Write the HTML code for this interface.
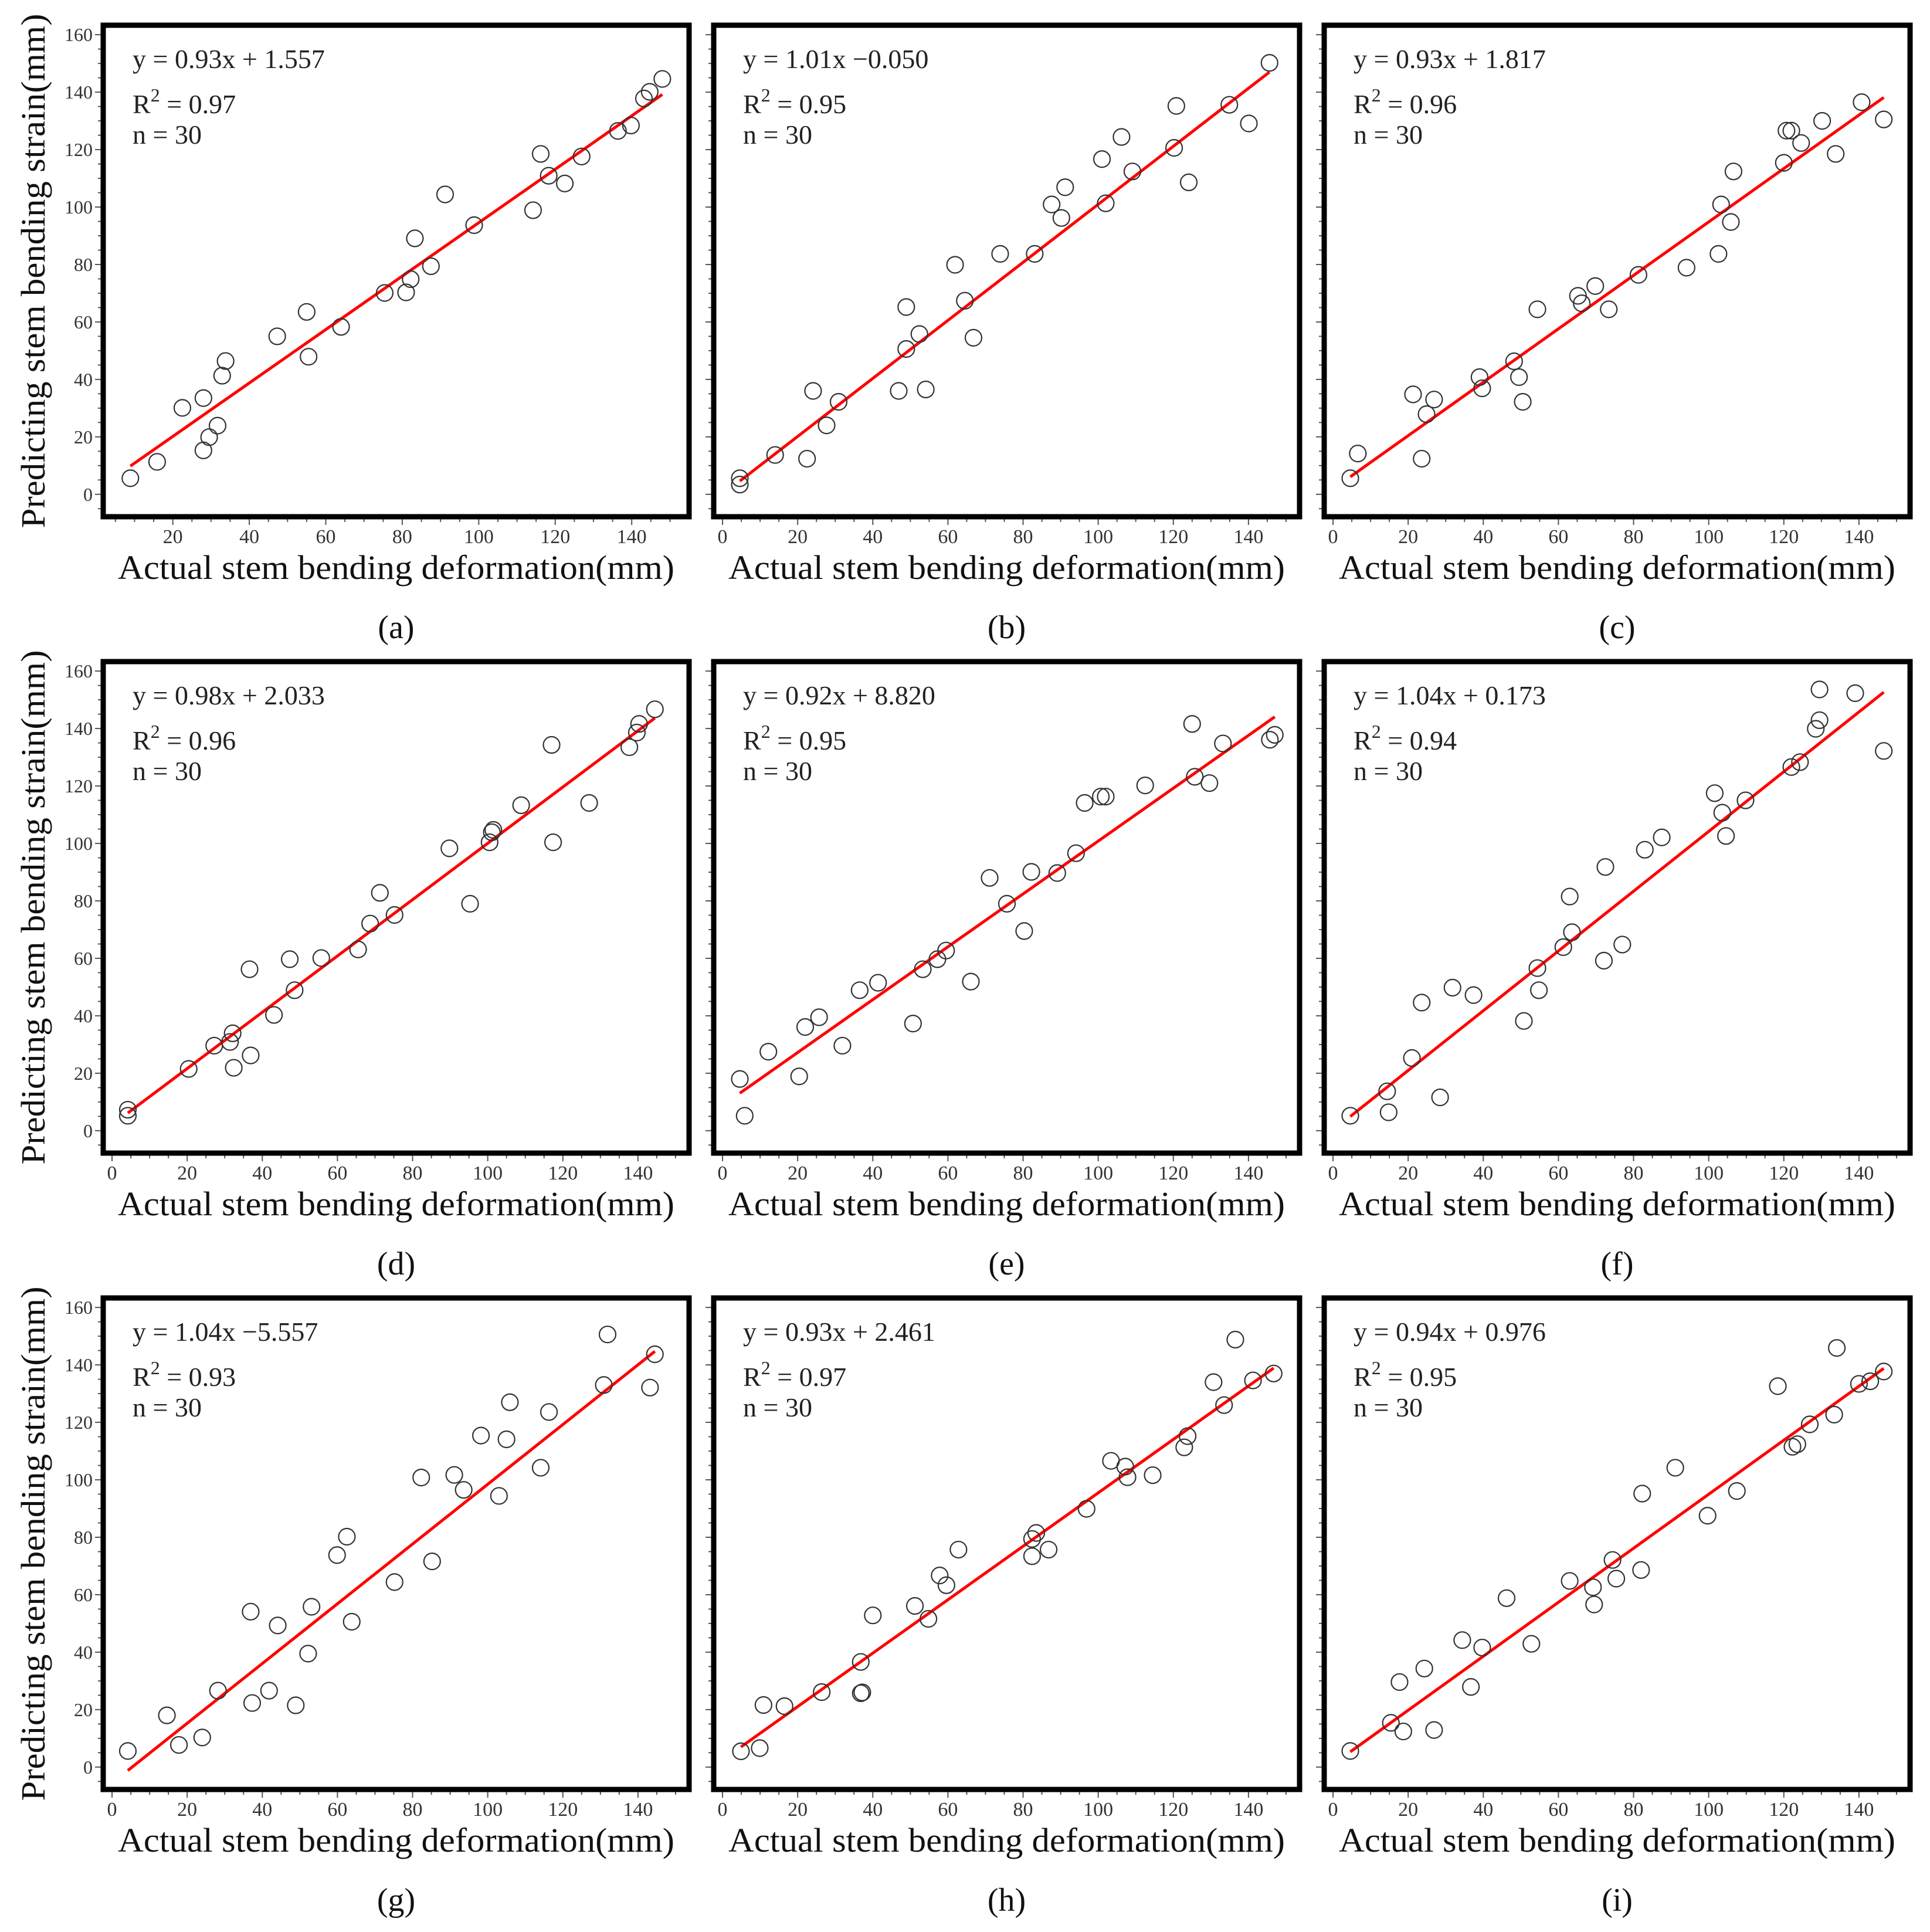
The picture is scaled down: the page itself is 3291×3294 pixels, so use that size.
<!DOCTYPE html>
<html><head><meta charset="utf-8"><style>
html,body{margin:0;padding:0;background:#fff;}
svg{display:block;font-family:"Liberation Serif","DejaVu Serif",serif;}
svg text{font-family:"Liberation Serif","DejaVu Serif",serif;}
</style></head>
<body>
<svg id="fig" width="3291" height="3294" viewBox="0 0 3291 3294" font-family="Liberation Serif, DejaVu Serif, serif" xmlns="http://www.w3.org/2000/svg"></svg>
<script>
const panelLabels = ["(a)","(b)","(c)","(d)","(e)","(f)","(g)","(h)","(i)"];
const slopes = [0.93,1.01,0.93,0.98,0.92,1.04,1.04,0.93,0.94];
const intercepts = [1.557,-0.050,1.817,2.033,8.820,0.173,-5.557,2.461,0.976];
const eqTexts = ["y = 0.93x + 1.557","y = 1.01x \u22120.050","y = 0.93x + 1.817","y = 0.98x + 2.033","y = 0.92x + 8.820","y = 1.04x + 0.173","y = 1.04x \u22125.557","y = 0.93x + 2.461","y = 0.94x + 0.976"];
const r2Texts = ["0.97","0.95","0.96","0.96","0.95","0.94","0.93","0.97","0.95"];
const xTicks = [0,20,40,60,80,100,120,140];
const yTicks = [0,20,40,60,80,100,120,140,160];
const actualA = [8.9,15.9,22.5,28.0,28.0,29.5,31.7,32.9,33.8,47.3,55.0,55.5,64.0,75.4,81.0,82.2,83.3,87.5,91.2,98.8,114.2,116.2,118.3,122.5,126.9,136.4,139.8,143.2,144.7,148.0];
const predA = [5.6,11.3,30.1,33.5,15.3,19.9,23.9,41.3,46.4,55.0,63.5,47.9,58.3,70.1,70.3,74.9,89.1,79.4,104.4,93.7,98.9,118.5,110.9,108.2,117.6,126.5,128.4,137.8,140.1,144.6];
const actualB = [4.6,4.6,14.0,22.5,24.1,27.7,30.9,46.9,48.9,48.9,52.4,54.1,61.9,64.5,66.8,73.9,83.1,87.6,90.2,91.2,101.0,102.0,106.2,109.1,120.2,120.8,124.1,134.9,140.1,145.6];
const predB = [3.4,5.6,13.7,12.4,36.0,24.0,32.2,36.0,65.2,50.6,55.8,36.5,79.9,67.4,54.5,83.7,83.7,100.9,96.2,106.9,116.7,101.3,124.4,112.4,120.6,135.2,108.6,135.6,129.1,150.2];
const actualC = [4.6,6.6,21.3,23.6,24.9,26.9,39.0,39.7,48.2,49.5,50.5,54.4,65.2,66.2,69.8,73.4,81.3,94.1,102.6,103.3,105.9,106.6,120.0,120.7,122.0,124.6,130.2,133.8,140.7,146.6];
const predC = [5.6,14.2,34.8,12.4,27.9,33.0,40.8,36.9,46.3,40.8,32.2,64.4,69.1,66.5,72.5,64.4,76.4,78.9,83.7,100.9,94.8,112.4,115.4,126.6,126.6,122.3,130.0,118.5,136.5,130.5];
const actualD = [4.2,4.2,20.4,27.2,31.4,32.1,32.4,36.6,36.9,43.1,47.3,48.6,55.7,65.5,68.7,71.3,75.2,89.8,95.3,100.5,101.1,101.5,108.9,117.0,117.4,127.0,137.7,139.7,140.3,144.5];
const predD = [7.3,5.2,21.5,29.6,30.9,33.9,21.9,56.2,26.2,40.3,59.7,48.9,60.1,63.1,72.1,82.8,75.1,98.3,79.0,100.4,103.9,104.7,113.3,134.3,100.4,114.1,133.5,138.6,141.6,146.7];
const actualE = [4.6,5.9,12.2,20.4,22.0,25.7,31.9,36.5,41.4,50.7,53.3,57.2,59.5,66.1,71.1,75.7,80.3,82.2,89.1,94.1,96.4,100.7,102.0,112.5,125.0,125.7,129.6,133.2,145.7,147.0];
const predE = [18.0,5.2,27.5,18.9,36.1,39.5,29.6,48.9,51.5,37.3,56.2,59.7,62.7,51.9,88.0,79.0,69.5,90.1,89.7,96.6,114.1,116.3,116.3,120.2,141.6,123.2,121.0,134.8,136.1,137.8];
const actualF = [4.6,14.4,14.8,21.0,23.6,28.5,31.8,37.4,50.8,54.4,54.8,61.3,63.0,63.6,72.1,72.5,77.0,83.0,87.5,101.6,103.6,104.6,109.8,122.0,124.3,128.5,129.5,129.5,139.0,146.6];
const predF = [5.2,13.7,6.4,25.3,44.6,11.6,49.8,47.2,38.2,56.6,48.9,63.9,81.5,69.1,59.2,91.8,64.8,97.8,102.1,117.5,110.7,102.6,115.0,126.6,128.3,139.9,142.9,153.6,152.3,132.2];
const actualG = [4.2,14.6,17.8,24.0,28.2,37.3,36.9,41.8,44.1,48.9,52.2,53.1,59.9,62.5,63.8,75.2,82.3,85.2,91.1,93.6,98.2,103.0,105.0,105.9,114.1,116.3,130.9,131.9,143.2,144.5];
const predG = [5.6,18.0,7.7,10.3,26.6,22.3,54.1,26.6,49.3,21.5,39.5,55.8,73.8,80.2,50.6,64.4,100.8,71.6,101.7,96.5,115.4,94.4,114.1,127.0,104.2,123.6,133.0,150.6,132.1,143.7];
const actualH = [4.9,9.9,10.9,16.5,26.4,36.8,36.8,37.2,40.0,51.2,54.8,57.8,59.6,62.8,82.4,83.5,82.4,86.8,96.9,103.4,107.2,107.8,114.5,122.9,123.8,130.7,133.5,136.5,141.2,146.7];
const predH = [5.5,6.6,21.6,21.2,26.1,36.6,25.7,26.0,52.8,56.1,51.6,66.7,63.3,75.7,79.4,81.5,73.4,75.7,89.9,106.6,104.6,100.9,101.6,111.3,115.2,134.0,126.0,148.8,134.6,137.0];
const actualI = [4.6,15.4,17.7,18.7,24.3,26.9,34.4,36.7,39.7,46.2,52.8,63.0,69.2,69.5,74.4,75.4,82.0,82.3,91.1,99.7,107.5,118.4,122.3,123.6,126.9,133.4,134.1,140.0,143.0,146.6];
const predI = [5.6,15.4,29.6,12.4,34.3,12.9,44.2,27.9,41.6,58.8,42.9,64.8,62.6,56.6,72.1,65.6,68.6,95.2,104.2,87.5,96.1,132.6,111.5,112.4,119.3,122.7,145.9,133.4,134.3,137.7];

const actualAll = [actualA,actualB,actualC,actualD,actualE,actualF,actualG,actualH,actualI];
const predAll = [predA,predB,predC,predD,predE,predF,predG,predH,predI];

const NS = "http://www.w3.org/2000/svg";
const svg = document.getElementById("fig");
const colLeft = [176,1217,2258];
const rowTop = [43,1128,2213];
const FW = 999, FH = 838;
const Y0 = -7.8, Y1 = 163.3;
const FONT = "Liberation Serif, DejaVu Serif, serif";

function mk(tag, attrs, parent, txt){
  const e = document.createElementNS(NS, tag);
  for (const k in attrs) e.setAttribute(k, attrs[k]);
  if (tag === "text") e.setAttribute("font-family", FONT);
  if (txt !== undefined) e.textContent = txt;
  (parent || svg).appendChild(e);
  return e;
}

for (let p = 0; p < 9; p++){
  const col = p % 3, row = Math.floor(p / 3);
  const L = colLeft[col], T = rowTop[row], B = T + FH;
  const xmin = p === 0 ? 1.8 : -2.35;
  const xmax = p === 0 ? 155.0 : 153.6;
  const sx = v => L + (v - xmin) / (xmax - xmin) * FW;
  const sy = v => B - (v - Y0) / (Y1 - Y0) * FH;

  const g = mk("g", {});
  
  

  for (let v = 0; v <= 150; v += 5){
    if (v < xmin || v > xmax) continue;
    const major = v % 20 === 0;
    const t = mk("line", {x1:sx(v), x2:sx(v), y1:B+4, y2:B+(major?14:9), stroke:"#555", "stroke-width":2}, g);
    
    
  }
  for (const v of xTicks){
    if (v < xmin) continue;
    const lbl = mk("text", {x:sx(v), y:B+45, "text-anchor":"middle", "font-size":34, fill:"#333"}, g, String(v));
    
    
  }
  for (let v = -5; v <= 160; v += 5){
    const major = v % 20 === 0 && v >= 0;
    const t = mk("line", {x1:L-4, x2:L-(major?14:9), y1:sy(v), y2:sy(v), stroke:"#555", "stroke-width":2}, g);
    
    
  }
  if (col === 0){
    for (const v of yTicks){
      const lbl = mk("text", {x:L-18, y:sy(v)+11, "text-anchor":"end", "font-size":32, fill:"#333"}, g, String(v));
      
      
    }
    const yt = mk("text", {x:0, y:0, transform:"translate(76," + (T+FH/2) + ") rotate(-90)", "text-anchor":"middle", "font-size":58, fill:"#111", textLength:877, lengthAdjust:"spacingAndGlyphs"}, g, "Predicting stem bending strain(mm)");
    
    
  }
  const fr = mk("rect", {x:L, y:T, width:FW, height:FH, fill:"none", stroke:"#000", "stroke-width":9}, g);
  
  

  const xs = actualAll[p];
  const lo = Math.min(...xs), hi = Math.max(...xs);
  const fl = mk("line", {x1:sx(lo), y1:sy(slopes[p]*lo+intercepts[p]), x2:sx(hi), y2:sy(slopes[p]*hi+intercepts[p]), stroke:"#f00", "stroke-width":5}, g);
  
  

  const ys = predAll[p];
  for (let i = 0; i < xs.length; i++){
    const c = mk("circle", {cx:sx(xs[i]), cy:sy(ys[i]), r:14, fill:"none", stroke:"#333", "stroke-width":2.2}, g);
    
    
  }

  const eq = mk("text", {x:L+50, y:T+73, "font-size":46, fill:"#222"}, g, eqTexts[p]);
  
  
  const r2 = mk("text", {x:L+50, y:T+150, "font-size":46, fill:"#222"}, g);
  
  
  mk("tspan", {}, r2, "R");
  mk("tspan", {dy:-20, "font-size":32}, r2, "2");
  mk("tspan", {dy:20}, r2, " = " + r2Texts[p]);
  const nt = mk("text", {x:L+50, y:T+202, "font-size":46, fill:"#222"}, g, "n = 30");
  
  

  const xt = mk("text", {x:L+FW/2, y:B+106, "text-anchor":"middle", "font-size":58, fill:"#111", textLength:949, lengthAdjust:"spacingAndGlyphs"}, g, "Actual stem bending deformation(mm)");
  
  
  const pl = mk("text", {x:L+FW/2, y:B+207, "text-anchor":"middle", "font-size":56, fill:"#111"}, g, panelLabels[p]);
  
  
}
</script>
</body></html>
